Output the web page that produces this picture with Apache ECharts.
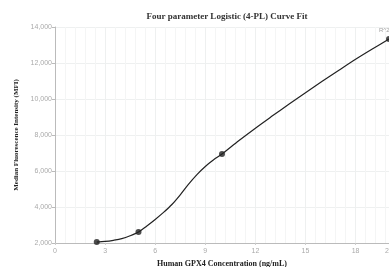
<!DOCTYPE html>
<html>
<head>
<meta charset="utf-8">
<script src="https://cdn.jsdelivr.net/npm/echarts@6/dist/echarts.min.js"></script>
<style>
  html, body { margin: 0; padding: 0; background: #fff; }
  #chart { width: 389px; height: 267px; }
</style>
</head>
<body>
<div id="chart"></div>
<script>
// measured standards
const concX = [2.5, 5, 10, 20];
const mfiY = [2050, 2610, 6940, 13330];

// fitted curve
const curveX = [2.5, 3, 3.5, 4, 4.5, 5, 5.5, 6, 6.5, 7, 7.5, 8, 8.5, 9, 9.5, 10, 11, 12, 13, 14, 15, 16, 17, 18, 19, 20];
const curveY = [2050, 2085, 2150, 2240, 2400, 2610, 2950, 3310, 3700, 4140, 4680, 5270, 5800, 6250, 6620, 6940, 7680, 8380, 9050, 9710, 10350, 10980, 11600, 12210, 12780, 13330];

const xTicks = { min: 0, max: 20, step: 3 };
const yTicks = { min: 2000, max: 14000, step: 2000 };

let chart = echarts.init(document.getElementById('chart'));

let curveData = curveX.map((x, i) => [x, curveY[i]]);
let pointData = concX.map((x, i) => [x, mfiY[i]]);

let option = {
  animation: false,
  title: {
    text: 'Four parameter Logistic (4-PL) Curve Fit',
    left: 222,
    textAlign: 'center',
    top: 7,
    textStyle: {
      fontFamily: 'Liberation Serif',
      fontWeight: 'bold',
      fontSize: 9,
      color: '#333'
    }
  },
  grid: {
    left: 55,
    right: 0,
    top: 27,
    bottom: 24,
    outerBoundsMode: 'none'
  },
  xAxis: {
    type: 'value',
    min: xTicks.min,
    max: xTicks.max,
    interval: xTicks.step,
    name: 'Human GPX4 Concentration (ng/mL)',
    nameLocation: 'middle',
    nameGap: 17,
    nameTextStyle: {
      fontFamily: 'Liberation Serif',
      fontWeight: 'bold',
      fontSize: 8,
      color: '#222'
    },
    axisLine: { lineStyle: { color: '#bbb' } },
    axisTick: { show: true, length: 2, lineStyle: { color: '#ccc' } },
    axisLabel: { fontSize: 7, color: '#aaa', margin: 5 },
    splitLine: { lineStyle: { color: '#eef0f0' } },
    minorTick: { show: false, splitNumber: 5 },
    minorSplitLine: { show: true, lineStyle: { color: '#f4f5f5' } }
  },
  yAxis: {
    type: 'value',
    min: yTicks.min,
    max: yTicks.max,
    interval: yTicks.step,
    name: 'Median Fluorescence Intensity (MFI)',
    nameLocation: 'middle',
    nameGap: 33,
    nameTextStyle: {
      fontFamily: 'Liberation Serif',
      fontWeight: 'bold',
      fontSize: 7,
      color: '#222'
    },
    axisLine: { show: true, lineStyle: { color: '#bbb' } },
    axisTick: { show: true, length: 3, lineStyle: { color: '#bbb' } },
    axisLabel: { fontSize: 7, color: '#aaa', margin: 3 },
    splitLine: { lineStyle: { color: '#eef0f0' } }
  },
  series: [
    {
      type: 'line',
      data: curveData,
      smooth: 0.3,
      showSymbol: false,
      lineStyle: { color: '#222', width: 1.2 }
    },
    {
      type: 'scatter',
      data: pointData,
      symbolSize: 6,
      itemStyle: { color: '#222' },
      label: {
        show: true,
        formatter: function (p) {
          return p.dataIndex === concX.length - 1 ? 'R^2=0.999' : '';
        },
        position: [-7, -9],
        align: 'left',
        fontSize: 6,
        color: '#888'
      }
    }
  ]
};

chart.setOption(option);
</script>
</body>
</html>
